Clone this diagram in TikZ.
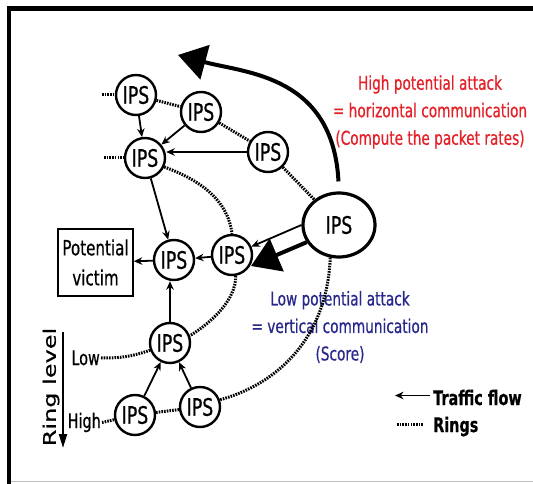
\documentclass[tikz,border=0pt]{standalone}
\usepackage{fontspec}
\setmainfont{DejaVu Sans}[FakeStretch=0.72,FakeBold=0.6]
\newfontfamily\ringfont{DejaVu Sans}[FakeBold=0.6]
\usepackage{graphicx}
\usetikzlibrary{arrows.meta,shapes.geometric}
\definecolor{redtxt}{RGB}{228,32,40}
\definecolor{bluetxt}{RGB}{40,40,140}
\tikzset{
 ips/.style={circle,draw,line width=2.4pt,minimum size=40pt,inner sep=0pt,font=\fontsize{24}{24}\selectfont},
 bigips/.style={ellipse,draw,line width=3.2pt,minimum width=72pt,minimum height=64pt,inner sep=0pt,font=\fontsize{24}{24}\selectfont},
 flow/.style={line width=1.8pt,-{Stealth[length=8.5pt,width=7.5pt]}},
 ring/.style={line width=3pt,dash pattern=on 1.6pt off 1.1pt},
 bigarrow/.style={line width=4pt,-{Triangle[length=28pt,width=35pt]}},
 lbl/.style={inner sep=1pt,font=\fontsize{20}{20}\selectfont},
 note/.style={align=center,font=\fontsize{19}{27.5}\selectfont},
}
\begin{document}
\begin{tikzpicture}[x=1pt,y=-1pt]
\useasboundingbox (0,0) rectangle (533,484);
\fill[white] (0,0) rectangle (533,484);
% frame
\draw[line width=5pt] (6.5,8.5) -- (533,8.5);
\draw[line width=4pt] (9,6) -- (9,484);
\draw[gray!50,line width=1.5pt] (11,481.5) -- (533,481.5);
% nodes
\node[ips] (TL) at (136,95) {IPS};
\node[ips] (TM) at (201,112) {IPS};
\node[ips] (L2) at (145,158) {IPS};
\node[ips] (RU) at (268,152) {IPS};
\node[bigips] (big) at (339,225) {IPS};
\node[ips] (MR) at (232,255) {IPS};
\node[ips] (C) at (174,260) {IPS};
\node[ips] (Low) at (170,343) {IPS};
\node[ips] (BL) at (135,415) {IPS};
\node[ips] (BR) at (200,407) {IPS};
\node[draw,line width=1.6pt,minimum width=75pt,minimum height=67pt,inner sep=0pt,align=center,font=\fontsize{21}{30}\selectfont] (victim) at (95.5,262.5) {Potential\\victim};
% labels
\node[lbl,anchor=base east] (lowlbl) at (101,365) {Low};
\node[lbl,anchor=base east] (highlbl) at (102,428) {High};
\node[rotate=90,inner sep=0pt,font=\ringfont\fontsize{24}{24}\selectfont] (ringlbl) at (51,387) {\scalebox{1}[0.72]{Ring level}};
\coordinate (ra1) at (63,332);
\coordinate (ra2) at (63,448);
\draw[line width=2.2pt,-{Triangle[length=14pt,width=8pt]}] (ra1) -- (ra2);
\node[note,text=redtxt] (hightxt) at (430,112) {High potential attack\\= horizontal communication\\(Compute the packet rates)};
\node[note,text=bluetxt] (lowtxt) at (340,327) {Low potential attack\\= vertical communication\\(Score)};
% legend
\node[lbl,font=\bfseries\fontsize{20}{20}\selectfont,anchor=base west] (tf) at (432,405) {Traffic flow};
\node[lbl,font=\bfseries\fontsize{20}{20}\selectfont,anchor=base west] (rg) at (432,432) {Rings};
\coordinate (la1) at (430,395.5);
\coordinate (la2) at (395,395.5);
\draw[flow] (la1) -- (la2);
\coordinate (lr1) at (397,424);
\coordinate (lr2) at (423,424);
\draw[ring] (lr1) -- (lr2);
% rings
\coordinate (tlstub) at (102,95);
\coordinate (l2stub) at (104,158);
\draw[ring] (tlstub) -- (TL);
\draw[ring] (l2stub) -- (L2);
\draw[ring] (TL) -- (TM);
\draw[ring] (TM) -- (RU);
\draw[ring] (RU) -- (big);
\draw[ring] (L2.-25) .. controls (200,180) and (228,200) .. (MR.north);
\draw[ring] (MR.-80) .. controls (236,300) and (212,322) .. (Low.20);
\draw[ring] (big.255) .. controls (327,340) and (275,385) .. (BR.20);
\draw[ring] (BL) -- (BR);
\draw[ring] (lowlbl.east) to[bend right=10] (Low.200);
\draw[ring] (highlbl.east) -- (BL);
% traffic flow
\draw[flow] (TL) -- (L2);
\draw[flow] (TM) -- (L2);
\draw[flow] (RU.west) -- (RU.west -| L2.east);
\draw[flow] (L2) -- (C);
\draw[flow] (MR) -- (C);
\draw[flow] (C) -- (victim);
\draw[flow] (Low.north) -- (Low.north |- C.south);
\draw[flow] (BL) -- (Low);
\draw[flow] (BR) -- (Low);
\draw[flow] (big.west) -- (MR);
% big arrows
\coordinate (curvetip) at (178,55);
\draw[bigarrow,shorten <=10pt] (big.north) .. controls (333,75) and (245,73) .. (curvetip);
\coordinate (striketip) at (251,266);
\draw[bigarrow] (big.208) -- (striketip);
\end{tikzpicture}
\end{document}
